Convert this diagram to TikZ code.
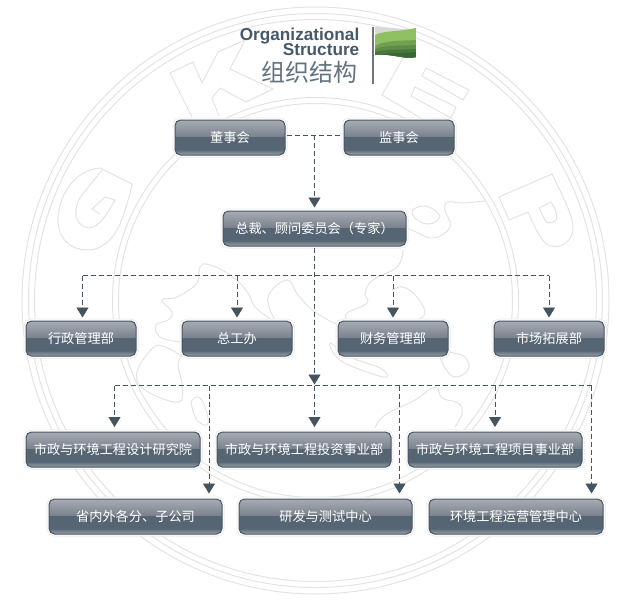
\documentclass[tikz,border=0pt]{standalone}
\usepackage{fontspec}
\setmainfont{Noto Sans CJK SC}
\newfontfamily\latinfont{Liberation Sans}
\usetikzlibrary{arrows.meta}

\definecolor{linkc}{HTML}{45545F}
\definecolor{sealc}{HTML}{E3E3E3}
\definecolor{titlec}{HTML}{46596A}
\definecolor{btnb}{HTML}{5C6875}
\definecolor{btnc}{HTML}{9297A0}
\definecolor{btnd}{HTML}{78838F}
\definecolor{btne}{HTML}{566573}
\definecolor{btnf}{HTML}{7A828E}
\definecolor{btng}{HTML}{A8ACB3}
\definecolor{flaga}{HTML}{8FC163}
\definecolor{flagb}{HTML}{71A14E}
\definecolor{flagc}{HTML}{5D8C46}
\definecolor{flagd}{HTML}{48773B}
\definecolor{flage}{HTML}{386634}
\pgfdeclareverticalshading{btnshade}{100bp}{
  color(0bp)=(btnb); color(25bp)=(btnb); color(26.5bp)=(btnc);
  color(29bp)=(btnd); color(33bp)=(btne); color(51.5bp)=(btne);
  color(51.6bp)=(btnf); color(75bp)=(btng); color(100bp)=(btng)}

\tikzset{
  unit/.style={rounded corners=5.5pt, draw=btne!85!black, line width=1pt,
    preaction={draw=sealc!70!white, line width=5pt},
    preaction={draw=white, line width=3.2pt},
    shading=btnshade, text=white, font=\fontsize{13.2}{13.2}\selectfont,
    minimum width=#1, minimum height=35pt, inner sep=0pt, outer sep=2pt},
  link/.style={draw=linkc, line width=.9pt, dash pattern=on 5pt off 3pt},
  arrow/.style={link, -{Triangle[length=10pt,width=12pt]}, shorten >=1.5pt},
  seal/.style={draw=sealc, line width=1pt},
}

\begin{document}
\begin{tikzpicture}[x=1pt, y=-1pt]
  \useasboundingbox (0,0) rectangle (635,603);

  % seal behind the chart
  \foreach \r in {293.5, 287, 281, 203, 197}
    \draw[seal] (315.5,300.5) circle [radius=\r pt];

  \draw[seal] (170,73) -- (193,62) -- (202,83) -- (218,52) -- (245,40) -- (230,69)
    -- (273,89) -- (246,102) -- (220,88) -- (212,98) -- (219,116);
  \draw[seal] (170,73) -- (192,117);
  \draw[seal] (132,184) -- (100,168) .. controls (75,170) and (58,195) .. (58,220)
    .. controls (58,240) and (72,250) .. (87,250)
    .. controls (105,250) and (118,235) .. (125,210)
    .. controls (128,200) and (131,192) .. (132,184);
  \draw[seal] (102,170) -- (82,195) .. controls (72,208) and (74,225) .. (88,228)
    .. controls (100,228) and (108,212) .. (115,200) -- (105,197) -- (92,209) -- (100,214);
  \draw[seal] (403,58) -- (382,95) -- (424,120);
  \draw[seal] (426,68) -- (469,90) -- (463,100) -- (422,76) -- cycle;
  \draw[seal] (415,87) -- (456,107) -- (451,118) -- (411,96) -- cycle;
  \draw[seal] (499,197) -- (552,174) .. controls (562,195) and (573,215) .. (573,228)
    .. controls (573,243) and (558,250) .. (548,245) .. controls (538,238) and (533,222) .. (528,212)
    -- (509,220) -- cycle;
  \draw[seal] (539,208) -- (551,202) .. controls (556,210) and (558,216) .. (556,220)
    .. controls (552,224) and (547,224) .. (545,220) -- cycle;

  % map in the middle of the seal
  \draw[seal] plot[smooth, tension=.7] coordinates {(180,342) (160,337) (156,325) (168,320)
    (172,312) (162,300) (177,297) (197,283) (200,267) (210,265) (233,277) (248,293) (255,307) (272,320)};
  \draw[seal] plot[smooth, tension=.7] coordinates {(182,356) (165,347) (153,348) (137,372)
    (145,390) (178,402) (182,385) (178,365) (182,356)};
  \draw[seal] plot[smooth cycle, tension=.7] coordinates {(192,400) (200,398) (207,413)
    (207,425) (197,420) (192,407)};
  \draw[seal] plot[smooth, tension=.7] coordinates {(275,320) (268,297) (287,280) (298,295) (315,312) (338,325)};
  \draw[seal] plot[smooth, tension=.7] coordinates {(485,201) (463,203) (448,202) (445,210)
    (450,227) (433,238) (412,230) (406,228)};
  \draw[seal] plot[smooth cycle, tension=.7] coordinates {(413,210) (425,206) (438,213)
    (438,220) (427,224) (415,218)};
  \draw[seal] plot[smooth, tension=.7] coordinates {(403,250) (397,267) (373,280) (365,293)
    (367,303) (347,313) (347,320)};
  \draw[seal] plot[smooth, tension=.7] coordinates {(392,290) (403,287) (417,297) (425,313) (417,320)};
  \draw[seal] plot[smooth cycle, tension=.7] coordinates {(330,343) (340,360) (370,373)
    (387,377) (380,368) (350,357)};
  \draw[seal] plot[smooth, tension=.7] coordinates {(448,352) (465,357) (468,370) (455,377)
    (445,368) (440,357)};
  \draw[seal] plot[smooth, tension=.7] coordinates {(375,428) (385,415) (415,400) (435,387)
    (442,398) (458,403) (462,413) (455,427)};

  % title and flag
  \node[anchor=base east, inner sep=0pt, text=titlec, font=\latinfont\bfseries\fontsize{17.2}{17}\selectfont]
    (org) at (359.5,40.2) {Organizational};
  \node[anchor=base east, inner sep=0pt, text=titlec, font=\latinfont\bfseries\fontsize{17.2}{17}\selectfont]
    (str) at (359.5,55.7) {Structure};
  \node[anchor=east, inner sep=0pt, text=titlec!85!white, font=\fontsize{24}{24}\selectfont]
    (zzjg) at (357.5,72) {组织结构};
  \fill[gray!70!titlec] (372.4,27) rectangle (374.2,84);
  \begin{scope}
    \clip (375,27) .. controls (390,26) and (400,31) .. (416,28) -- (416,57)
      .. controls (405,60) and (392,53) .. (375,55) -- cycle;
    \fill[white!70!gray] (370,20) rectangle (420,65);
    \fill[flaga] (375,35) .. controls (385,30) and (400,32) .. (416,28)
      -- (416,60) -- (375,60) -- cycle;
    \fill[flagb] (375,46) .. controls (385,40) and (400,41) .. (416,40)
      -- (416,60) -- (375,60) -- cycle;
    \fill[flagc] (375,49) .. controls (385,45) and (400,46) .. (416,45)
      -- (416,60) -- (375,60) -- cycle;
    \fill[flagd] (375,52) .. controls (385,49) and (400,50) .. (416,49)
      -- (416,60) -- (375,60) -- cycle;
    \fill[flage] (375,56) .. controls (385,52) and (400,54) .. (416,52)
      -- (416,60) -- (375,60) -- cycle;
  \end{scope}

  % chart
  \node[unit=110pt] (dsh) at (230,137.5) {董事会};
  \node[unit=110pt] (jsh) at (399,137.5) {监事会};
  \node[unit=183pt] (zc) at (314.5,228.5) {总裁、顾问委员会（专家）};

  \node[unit=110pt] (xz) at (81,338.5) {行政管理部};
  \node[unit=110pt] (zg) at (237,338.5) {总工办};
  \node[unit=110pt] (cw) at (393,338.5) {财务管理部};
  \node[unit=110pt] (sc) at (549,338.5) {市场拓展部};

  \node[unit=174pt] (sj) at (113,449.5) {市政与环境工程设计研究院};
  \node[unit=174pt] (tz) at (304,449.5) {市政与环境工程投资事业部};
  \node[unit=174pt] (xm) at (495,449.5) {市政与环境工程项目事业部};

  \node[unit=173pt] (sn) at (135.5,516.5) {省内外各分、子公司};
  \node[unit=173pt] (yf) at (325.5,516.5) {研发与测试中心};
  \node[unit=174pt] (hj) at (516,516.5) {环境工程运营管理中心};

  \coordinate (top) at (314.5,135);
  \coordinate (busa) at (314.5,275.5);
  \coordinate (busb) at (314.5,385.5);
  \coordinate (xza) at (82.5,275.5);
  \coordinate (sja) at (114.5,385.5);
  \coordinate (tza) at (314.5,385.5);
  \coordinate (sna) at (209,385.5);
  \coordinate (yfa) at (399.5,385.5);
  \coordinate (hja) at (591.5,385.5);

  \draw[link] (dsh.east |- top) -- (jsh.west |- top);
  \draw[arrow] (top) -- (zc);
  \draw[arrow, shorten >=1pt] (zc) -- (busb);

  \draw[link] (xza) -- (sc.north |- busa);
  \draw[arrow] (xza) -- (xza |- xz.north);
  \draw[arrow] (zg |- busa) -- (zg);
  \draw[arrow] (cw |- busa) -- (cw);
  \draw[arrow] (sc |- busa) -- (sc);

  \draw[link] (sja) -- (hja);
  \draw[arrow, shorten >=3pt] (sja) -- (sja |- sj.north);
  \draw[arrow, shorten >=3pt] (tza) -- (tza |- tz.north);
  \draw[arrow, shorten >=3pt] (xm |- busb) -- (xm);
  \draw[arrow, shorten >=3.5pt] (sna) -- (sna |- sn.north);
  \draw[arrow, shorten >=3.5pt] (yfa) -- (yfa |- yf.north);
  \draw[arrow, shorten >=3.5pt] (hja) -- (hja |- hj.north);
\end{tikzpicture}
\end{document}
